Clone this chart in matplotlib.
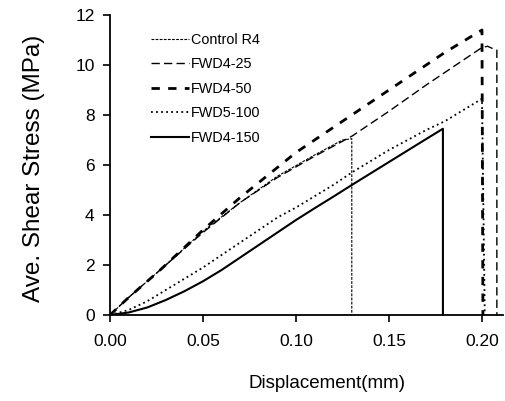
import matplotlib
matplotlib.use("Agg")
import matplotlib.pyplot as plt

plt.rcParams['font.family'] = ['Liberation Sans', 'DejaVu Sans']

# Load-displacement curves (displacement in mm, average shear stress in MPa)
ctrl_x = [0, 0.01, 0.02, 0.03, 0.05, 0.07, 0.09, 0.11, 0.12, 0.125, 0.13, 0.13]
ctrl_y = [0, 0.7, 1.35, 2.0, 3.35, 4.5, 5.55, 6.4, 6.8, 7.0, 7.05, 0]

fwd25_x = [0, 0.01, 0.02, 0.03, 0.05, 0.07, 0.09, 0.11, 0.13, 0.15, 0.17, 0.19, 0.2, 0.203, 0.206, 0.208, 0.208]
fwd25_y = [0, 0.7, 1.35, 2.0, 3.3, 4.5, 5.5, 6.35, 7.15, 8.15, 9.2, 10.2, 10.7, 10.75, 10.65, 10.6, 0]

fwd50_x = [0, 0.01, 0.027, 0.05, 0.07, 0.10, 0.13, 0.16, 0.18, 0.2, 0.2005]
fwd50_y = [0, 0.7, 1.8, 3.4, 4.7, 6.5, 8.0, 9.5, 10.5, 11.4, 0]

fwd100_x = [0, 0.01, 0.02, 0.03, 0.04, 0.05, 0.06, 0.07, 0.08, 0.09, 0.10, 0.11, 0.12, 0.13,
            0.14, 0.15, 0.16, 0.17, 0.18, 0.19, 0.2, 0.2015]
fwd100_y = [0, 0.2, 0.55, 1.0, 1.45, 1.9, 2.4, 2.9, 3.4, 3.9, 4.3, 4.75, 5.2, 5.7,
            6.15, 6.6, 7.0, 7.4, 7.75, 8.2, 8.65, 0]

fwd150_x = [0, 0.01, 0.02, 0.03, 0.04, 0.05, 0.06, 0.07, 0.08, 0.09, 0.10, 0.11, 0.12, 0.13,
            0.14, 0.15, 0.16, 0.17, 0.179, 0.179]
fwd150_y = [0, 0.1, 0.3, 0.6, 0.95, 1.35, 1.8, 2.3, 2.8, 3.3, 3.8, 4.27, 4.73, 5.2,
            5.66, 6.12, 6.58, 7.04, 7.45, 0]

x_ticks = [0.00, 0.05, 0.10, 0.15, 0.20]
x_tick_labels = ["0.00", "0.05", "0.10", "0.15", "0.20"]
y_ticks = [0, 2, 4, 6, 8, 10, 12]

fig = plt.figure(figsize=(5.05, 4.01), dpi=100)
ax = fig.add_axes([110 / 505, 86 / 401, 393 / 505, 300 / 401])

ax.plot(ctrl_x, ctrl_y, color='black', lw=0.8, linestyle=(0, (2.5, 1.2)), label='Control R4')
ax.plot(fwd25_x, fwd25_y, color='black', lw=1.0, linestyle=(0, (6, 3)), label='FWD4-25')
ax.plot(fwd50_x, fwd50_y, color='black', lw=2.0, linestyle=(0, (3, 3)), label='FWD4-50')
ax.plot(fwd100_x, fwd100_y, color='black', lw=1.3, linestyle=(0, (1, 1.8)), label='FWD5-100')
ax.plot(fwd150_x, fwd150_y, color='black', lw=1.5, linestyle='-', label='FWD4-150')

ax.set_xlim(0, 0.2113)
ax.set_ylim(0, 12)
ax.set_xticks(x_ticks)
ax.set_xticklabels(x_tick_labels)
ax.set_yticks(y_ticks)

for side in ('top', 'right'):
    ax.spines[side].set_visible(False)
for side in ('left', 'bottom'):
    ax.spines[side].set_linewidth(1.3)

ax.tick_params(axis='both', direction='out', length=5, width=1.2, labelsize=12.5)
ax.tick_params(axis='x', pad=9)
ax.tick_params(axis='y', pad=6)

ax.set_xlabel('Displacement(mm)', fontsize=13.5)
ax.xaxis.set_label_coords(0.552, -0.2)
ax.set_ylabel('Ave. Shear Stress (MPa)', fontsize=17.5)
ax.yaxis.set_label_coords(-0.165, 0.49)

ax.legend(loc='upper left', bbox_to_anchor=(0.072, 0.983), frameon=False, fontsize=10.4,
          handlelength=2.6, handletextpad=0.15, labelspacing=0.72)

fig.savefig('out.png', dpi=100)
